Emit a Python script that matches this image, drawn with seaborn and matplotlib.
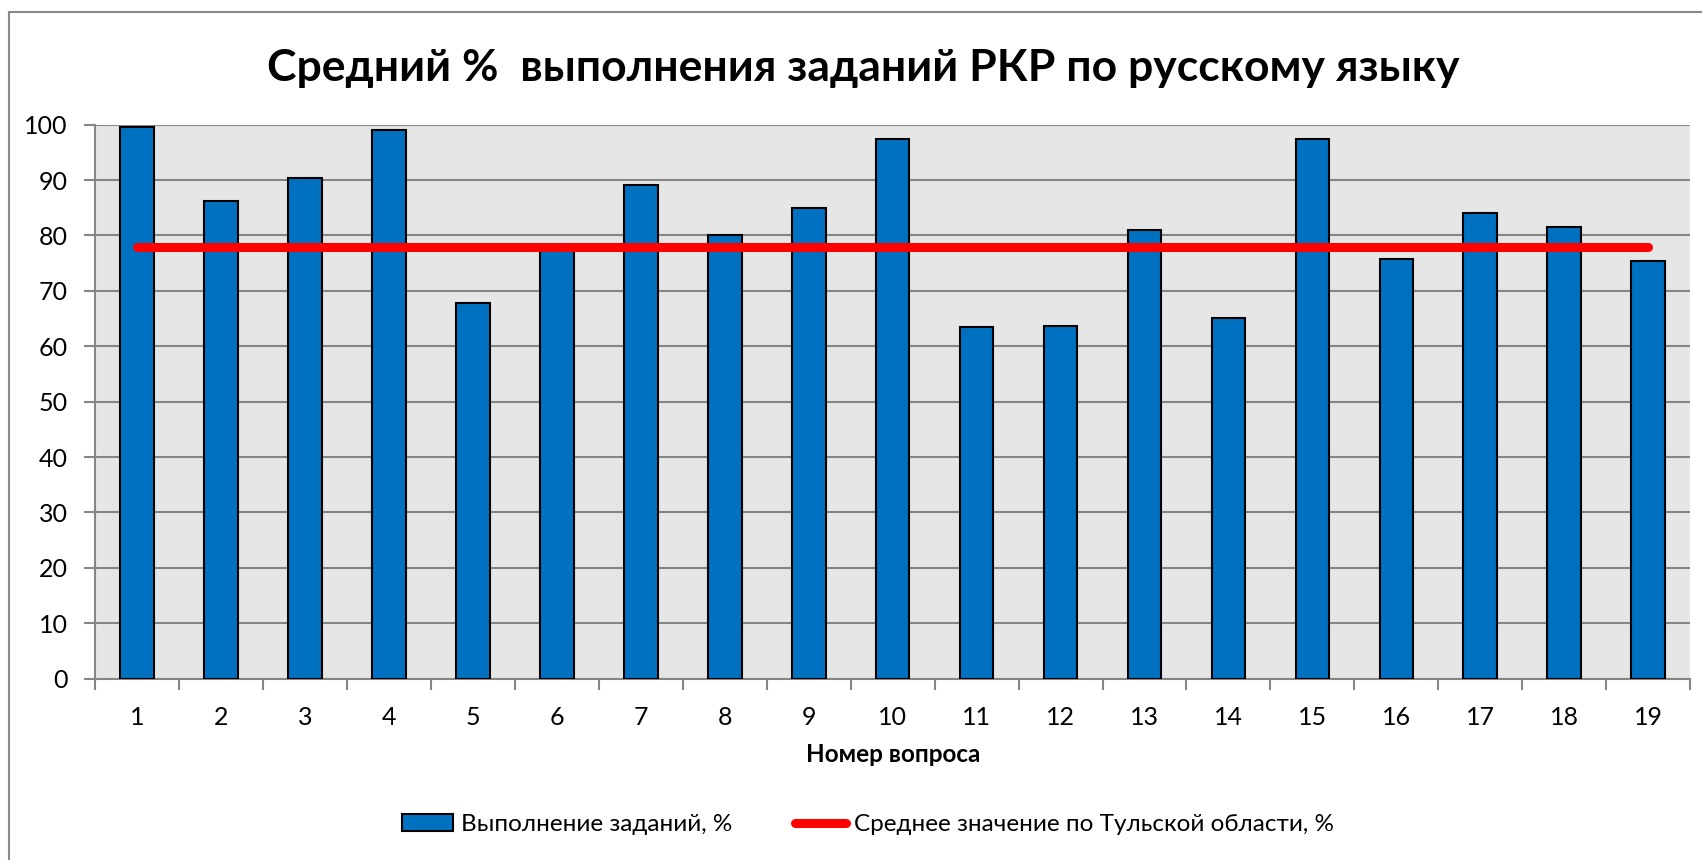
import matplotlib
matplotlib.use("Agg")
import matplotlib.pyplot as plt
import seaborn as sns
import pandas as pd
from matplotlib.patches import Rectangle, Patch
from matplotlib.lines import Line2D

# Данные: средний % выполнения по номерам заданий
questions = [str(i) for i in range(1, 20)]
task_pct = [99.5, 86.3, 90.4, 99.0, 67.8, 78.0, 89.2, 80.0, 84.9, 97.5,
            63.4, 63.7, 81.0, 65.1, 97.5, 75.8, 84.0, 81.5, 75.3]
tula_avg = [78.0] * len(questions)

title = "Средний %  выполнения заданий РКР по русскому языку"
xlabel = "Номер вопроса"
bar_label = "Выполнение заданий, %"
line_label = "Среднее значение по Тульской области, %"
yticks = list(range(0, 101, 10))

df = pd.DataFrame({"q": questions, "pct": task_pct, "avg": tula_avg})

sns.set_theme(style="white")
plt.rcParams['font.family'] = ['Lato', 'DejaVu Sans']
plt.rcParams['text.color'] = 'black'
plt.rcParams['xtick.color'] = 'black'
plt.rcParams['ytick.color'] = 'black'
plt.rcParams['axes.labelcolor'] = 'black'

fig = plt.figure(figsize=(17.02, 8.6), dpi=100)
ax = fig.add_axes([0.056, 0.211, 0.937, 0.644])

# рамка области диаграммы (как в Excel)
fig.add_artist(Rectangle((9 / 1702, -0.2), 1.2, 1.2 - 11.7 / 860,
                         transform=fig.transFigure, fill=False,
                         edgecolor='#8a8a8a', linewidth=1.5))

ax.set_facecolor('#e6e6e6')
sns.barplot(data=df, x="q", y="pct", color='#0070c0', saturation=1,
            width=0.4, edgecolor='black', linewidth=1.5, ax=ax, zorder=3)
sns.lineplot(data=df, x="q", y="avg", color='#ff0000', linewidth=6.5,
             ax=ax, zorder=4, solid_capstyle='round')

ax.set_ylim(0, 100)
ax.set_xlim(-0.5, len(questions) - 0.5)
ax.set_yticks(yticks)
ax.grid(axis='y', color='#868686', linewidth=1.5, zorder=0)
ax.set_axisbelow(True)

for s in ['top', 'right']:
    ax.spines[s].set_visible(False)
for s in ['left', 'bottom']:
    ax.spines[s].set_color('#868686')
    ax.spines[s].set_linewidth(1.5)

# деления между категориями
ax.set_xticks([i + 0.5 for i in range(-1, len(questions))], minor=True)
ax.tick_params(axis='x', which='major', length=0, labelsize=18, pad=20,
               labelcolor='black')
ax.tick_params(axis='x', which='minor', length=8, width=1.5, color='#868686',
               direction='out', bottom=True)
ax.tick_params(axis='y', length=8, width=1.5, color='#868686', labelsize=18,
               direction='out', left=True, pad=12, labelcolor='black')

ax.set_xlabel(xlabel, fontsize=17.5, fontweight='bold', labelpad=10)
ax.set_ylabel("")
fig.text(0.507, 0.921, title, ha='center', va='center', fontsize=32,
         fontweight='bold', color='black')

handles = [Patch(facecolor='#0070c0', edgecolor='black', linewidth=1.5),
           Line2D([0], [0], color='#ff0000', linewidth=6.5,
                  solid_capstyle='round')]
fig.legend(handles, [bar_label, line_label], loc='center',
           bbox_to_anchor=(0.51, 0.041), ncol=2, frameon=False,
           fontsize=17.5, handlelength=2.1, handletextpad=0.3,
           columnspacing=2.6)

fig.savefig("out.png", dpi=100)
